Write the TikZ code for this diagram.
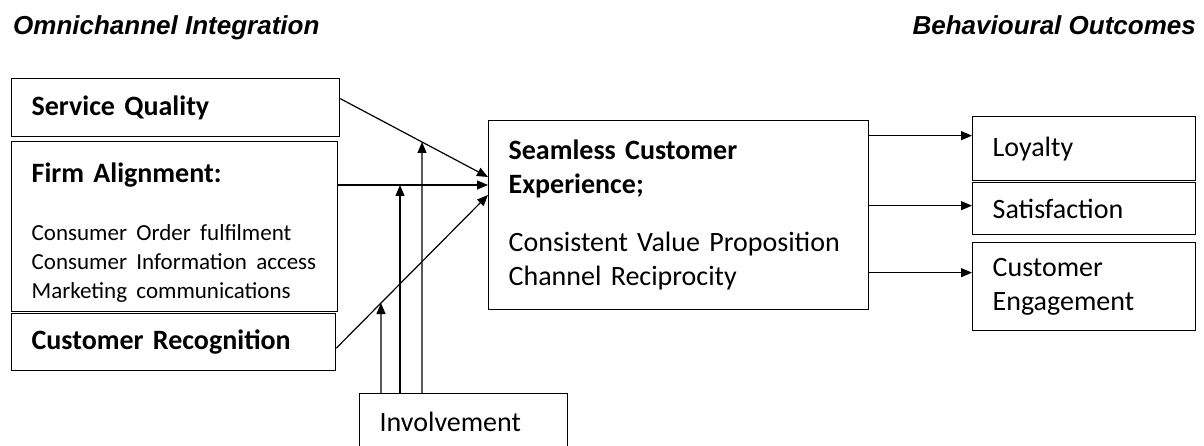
\documentclass[tikz,border=0pt]{standalone}
\usepackage{fontspec}
\setmainfont{Carlito}
\newfontfamily\headfont{Liberation Sans}
\usetikzlibrary{positioning, calc, arrows.meta}

\begin{document}
\begin{tikzpicture}[
    x=1pt, y=-1pt,
    every node/.style={font=\fontsize{28}{34}\selectfont},
    box/.style={rectangle, draw, line width=1.3pt, anchor=north west, inner xsep=20pt, inner ysep=0pt, align=left},
    heading/.style={font=\headfont\bfseries\itshape\fontsize{26}{30}\selectfont, inner sep=0pt},
    arrow/.style={-{Triangle[length=11pt, width=9pt]}, line width=1.2pt}
]
\useasboundingbox (0,0) rectangle (1204,446);

% Headings
\node[heading, anchor=base west] (omni) at (13,35) {Omnichannel Integration};
\node[heading, anchor=base east] (behav) at (1196,35) {Behavioural Outcomes};

% Integration boxes
\node[box, text width=288pt, minimum height=58pt] (sq) at (11,78) {\textbf{Service Quality}};
\node[box, text width=286pt, minimum height=170pt] (fa) at (11,141) {\rule{0pt}{36pt}\textbf{Firm Alignment:}\\[24pt]
    {\fontsize{23}{29}\selectfont\begin{tabular}[t]{@{}l@{}}Consumer Order fulfilment\\ Consumer Information access\\ Marketing communications\end{tabular}}};
\node[box, text width=284pt, minimum height=57pt] (cr) at (11,313) {\textbf{Customer Recognition}};

% Moderator
\node[box, text width=168pt, minimum height=56pt] (inv) at (359,393) {Involvement};

% Seamless experience
\node[box, text width=340pt, minimum height=189pt] (exp) at (488,120) {\textbf{Seamless Customer\\ Experience;}\\[24pt]
    Consistent Value Proposition\\ Channel Reciprocity};

% Outcomes
\node[box, text width=183pt, minimum height=64pt] (loy) at (972,116) {Loyalty};
\node[box, text width=183pt, minimum height=52pt] (sat) at (972,182) {Satisfaction};
\node[box, text width=183pt, minimum height=88pt] (eng) at (972,242) {Customer\\ Engagement};

% Inputs
\coordinate (inA) at ($(exp.north west)+(0,57)$);
\coordinate (inB) at ($(exp.north west)+(0,65)$);
\coordinate (inC) at ($(exp.north west)+(0,75)$);
\coordinate (sqout) at ([yshift=9pt]sq.east);
\coordinate (crout) at ([yshift=-6pt]cr.east);
\draw[arrow] (sqout) -- (inA);
\draw[arrow] (fa.east |- inB) -- (inB);
\draw[arrow] (crout) -- (inC);

% Involvement links
\coordinate (m1) at ($(inv.north west)+(22,0)$);
\coordinate (m2) at ($(inv.north west)+(41,0)$);
\coordinate (m3) at ($(inv.north west)+(63,0)$);
\coordinate (m1t) at (m1 |- exp.north);
\coordinate (m3t) at (m3 |- exp.north);
\draw[arrow] (m1) -- (intersection of m1--m1t and crout--inC);
\draw[arrow] (m2) -- (m2 |- inB);
\draw[arrow] (m3) -- (intersection of m3--m3t and sqout--inA);

% Outputs
\coordinate (o1) at ([yshift=13pt]loy.west);
\coordinate (o2) at ([yshift=3pt]sat.west);
\coordinate (o3) at ([yshift=14pt]eng.west);
\draw[arrow] (exp.east |- o1) -- (o1);
\draw[arrow] (exp.east |- o2) -- (o2);
\draw[arrow] (exp.east |- o3) -- (o3);

\end{tikzpicture}
\end{document}
